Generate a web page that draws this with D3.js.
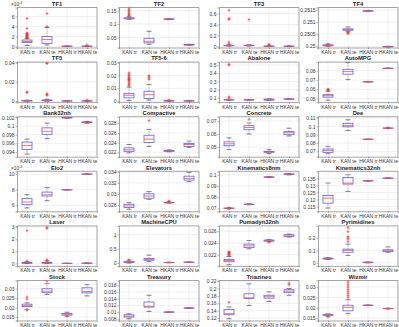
<!DOCTYPE html>
<html lang="en">
<head>
<meta charset="UTF-8">
<title>KAN vs HKAN boxplots</title>
<script src="https://cdnjs.cloudflare.com/ajax/libs/d3/7.8.5/d3.min.js"></script>
<style>
  body { margin: 0; background: #fff; }
  svg { display: block; font-family: "Liberation Sans", Arial, sans-serif; }
</style>
</head>
<body>
<div id="chart"></div>
<script>
const groups = ["KAN tr", "KAN te", "HKAN tr", "HKAN te"];

const titles = ["TF1", "TF2", "TF3", "TF4", "TF5", "TF5-6", "Abalone", "AutoMPG",
  "Bank32nh", "Compactive", "Concrete", "Dee", "Elo2", "Elevators", "Kinematics8nm", "Kinematics32nh",
  "Laser", "MachineCPU", "Pumadyn32nh", "Pyrimidines", "Stock", "Treasury", "Triazines", "Wizmir"];

// values of TF1 are in units of 1e-4, Elo2 in units of 1e-3
const yExponent = [-4, 0, 0, 0, 0, 0, 0, 0, 0, 0, 0, 0, -3, 0, 0, 0, 0, 0, 0, 0, 0, 0, 0, 0];

const yDomains = [
  [-0.2, 7.8], [0.013, 0.161], [-0.02, 0.71], [0.24995, 0.2516],
  [-0.001, 0.0405], [-0.0008, 0.0305], [0.048, 0.536], [0.046, 0.0893],
  [0.0929, 0.1022], [0.0211, 0.0293], [0.0426, 0.0733], [0.0636, 0.1117],
  [5.24, 10.36], [0.02682, 0.03409], [0.0673, 0.1032], [0.1116, 0.1401],
  [-0.2, 3.1], [-0.1, 1.31], [0.0201, 0.0269], [-0.024, 0.296],
  [0.0131, 0.0344], [0.0075, 0.0194], [0.1134, 0.222], [0.0138, 0.0332]
];

const yTicks = [
  [0, 2, 4, 6], [0.05, 0.1, 0.15], [0, 0.2, 0.4, 0.6], [0.25, 0.2505, 0.251, 0.2515],
  [0, 0.02, 0.04], [0, 0.01, 0.02, 0.03], [0.1, 0.2, 0.3, 0.4, 0.5], [0.05, 0.06, 0.07, 0.08],
  [0.094, 0.096, 0.098, 0.1, 0.102], [0.022, 0.024, 0.026, 0.028], [0.05, 0.06, 0.07], [0.07, 0.08, 0.09, 0.1, 0.11],
  [6, 8, 10], [0.028, 0.03, 0.032, 0.034], [0.07, 0.08, 0.09, 0.1], [0.115, 0.12, 0.125, 0.13, 0.135],
  [0, 1, 2, 3], [0, 0.5, 1], [0.022, 0.024, 0.026], [0, 0.1, 0.2],
  [0.015, 0.02, 0.025, 0.03], [0.008, 0.01, 0.012, 0.014, 0.016, 0.018], [0.12, 0.14, 0.16, 0.18, 0.2, 0.22], [0.015, 0.02, 0.025, 0.03]
];

// [lower whisker, q1, median, q3, upper whisker] for KAN tr, KAN te, HKAN tr, HKAN te
const boxStats = [
  [[0.2, 0.8, 1.0, 1.3, 1.6], [0.3, 0.6, 1.4, 2.0, 3.8], [0.02, 0.04, 0.06, 0.08, 0.12], [0.02, 0.04, 0.06, 0.08, 0.12]],
  [[0.117, 0.119, 0.121, 0.123, 0.127], [0.025, 0.03, 0.036, 0.047, 0.073], [0.116, 0.117, 0.118, 0.119, 0.12], [0.021, 0.022, 0.023, 0.024, 0.025]],
  [[0.005, 0.012, 0.016, 0.02, 0.03], [0.008, 0.013, 0.017, 0.022, 0.03], [0, 0.002, 0.004, 0.006, 0.01], [0, 0.002, 0.004, 0.006, 0.01]],
  [[0.25, 0.25002, 0.25004, 0.25006, 0.2501], [0.2506, 0.25066, 0.25069, 0.25072, 0.2508], [0.25144, 0.25145, 0.25146, 0.25147, 0.25148], [0.24996, 0.24997, 0.24998, 0.24999, 0.25]],
  [[0, 0.0002, 0.0004, 0.0006, 0.001], [0, 0.0004, 0.0008, 0.0012, 0.002], [0, 0.0002, 0.0003, 0.0004, 0.0006], [0, 0.0002, 0.0003, 0.0004, 0.0006]],
  [[0.0005, 0.0025, 0.0045, 0.006, 0.011], [0.0008, 0.002, 0.005, 0.0077, 0.013], [0, 0.0001, 0.0002, 0.0003, 0.0005], [0, 0.0001, 0.0002, 0.0003, 0.0005]],
  [[0.07, 0.074, 0.076, 0.078, 0.082], [0.071, 0.074, 0.076, 0.078, 0.08], [0.07, 0.072, 0.078, 0.085, 0.088], [0.082, 0.084, 0.085, 0.086, 0.087]],
  [[0.048, 0.0514, 0.053, 0.0541, 0.0578], [0.0703, 0.0762, 0.079, 0.0815, 0.089], [0.0678, 0.0679, 0.068, 0.0681, 0.0682], [0.0824, 0.0825, 0.0826, 0.0827, 0.0828]],
  [[0.0935, 0.0946, 0.0955, 0.0963, 0.097], [0.0971, 0.0981, 0.0988, 0.0996, 0.1007], [0.10185, 0.1019, 0.10195, 0.102, 0.10205], [0.1007, 0.1008, 0.1009, 0.101, 0.1011]],
  [[0.0219, 0.0222, 0.0225, 0.0229, 0.0236], [0.0232, 0.024, 0.0247, 0.0255, 0.0267], [0.0221, 0.0222, 0.0223, 0.0224, 0.0225], [0.023, 0.0232, 0.0236, 0.0238, 0.0243]],
  [[0.048, 0.051, 0.0525, 0.054, 0.057], [0.06, 0.0633, 0.065, 0.0664, 0.0685], [0.045, 0.046, 0.0463, 0.0467, 0.048], [0.0585, 0.0595, 0.061, 0.062, 0.0645]],
  [[0.067, 0.0688, 0.071, 0.0729, 0.076], [0.095, 0.0995, 0.101, 0.1035, 0.108], [0.0844, 0.0845, 0.0846, 0.0847, 0.0848], [0.0978, 0.0979, 0.098, 0.0981, 0.0982]],
  [[5.67, 6.09, 6.43, 6.86, 7.37], [6.6, 7.2, 7.35, 7.7, 8.29], [7.98, 7.99, 8.0, 8.01, 8.02], [9.98, 9.99, 10, 10.01, 10.02]],
  [[0.0272, 0.0275, 0.0278, 0.0281, 0.0284], [0.029, 0.0292, 0.0296, 0.03, 0.0304], [0.0283, 0.02835, 0.0284, 0.02845, 0.0285], [0.0322, 0.0325, 0.0328, 0.0332, 0.0339]],
  [[0.0695, 0.0698, 0.07, 0.0702, 0.0705], [0.0732, 0.0734, 0.0736, 0.0738, 0.074], [0.0975, 0.0978, 0.098, 0.0982, 0.0985], [0.1, 0.1003, 0.1006, 0.1009, 0.1012]],
  [[0.1139, 0.1174, 0.121, 0.1229, 0.1317], [0.1258, 0.131, 0.1317, 0.1357, 0.1376], [0.1331, 0.1332, 0.1333, 0.1334, 0.1335], [0.135, 0.1351, 0.1352, 0.1353, 0.1354]],
  [[0, 0.02, 0.05, 0.08, 0.15], [0, 0.03, 0.06, 0.1, 0.2], [0, 0.005, 0.01, 0.015, 0.02], [0, 0.01, 0.02, 0.03, 0.05]],
  [[0, 0.02, 0.04, 0.06, 0.1], [0.05, 0.1, 0.13, 0.16, 0.28], [0.01, 0.015, 0.02, 0.025, 0.03], [0.02, 0.025, 0.03, 0.035, 0.04]],
  [[0.0203, 0.0208, 0.021, 0.0212, 0.0217], [0.023, 0.0232, 0.0235, 0.0238, 0.0244], [0.0242, 0.0243, 0.0244, 0.0245, 0.0246], [0.025, 0.0251, 0.0252, 0.0254, 0.0255]],
  [[0.028, 0.031, 0.035, 0.038, 0.042], [0.06, 0.085, 0.1, 0.11, 0.15], [0, 0.002, 0.004, 0.006, 0.008], [0.085, 0.09, 0.097, 0.105, 0.128]],
  [[0.019, 0.0205, 0.021, 0.0218, 0.0225], [0.027, 0.0279, 0.0287, 0.03, 0.0327], [0.0155, 0.016, 0.0165, 0.0168, 0.0175], [0.0262, 0.0278, 0.0285, 0.0305, 0.0322]],
  [[0.008, 0.0085, 0.0088, 0.0092, 0.0095], [0.0102, 0.0115, 0.0117, 0.013, 0.015], [0.0099, 0.00995, 0.01, 0.01005, 0.0101], [0.0111, 0.01115, 0.0112, 0.01125, 0.0113]],
  [[0.118, 0.129, 0.132, 0.143, 0.15], [0.154, 0.173, 0.175, 0.186, 0.213], [0.165, 0.174, 0.178, 0.182, 0.191], [0.182, 0.189, 0.193, 0.197, 0.2]],
  [[0.0158, 0.0163, 0.0165, 0.0168, 0.017], [0.0171, 0.0185, 0.0202, 0.0212, 0.0239], [0.0211, 0.02115, 0.0212, 0.02125, 0.0213], [0.0195, 0.01955, 0.0196, 0.01965, 0.0197]]
];

const outliers = [
  [[1.7, 1.8, 1.9, 2.0, 2.1, 2.2, 2.3, 2.4, 2.5, 2.6, 2.7, 3.6, 5.6], [4.0, 6.6], [], [0.3]],
  [[0.13, 0.133, 0.136, 0.14, 0.145, 0.15, 0.155, 0.16], [], [], []],
  [[0.05, 0.08, 0.49, 0.51, 0.66], [0.49], [0.03, 0.04], []],
  [[0.25008], [0.25052, 0.25055, 0.25058], [], []],
  [[0.009, 0.0095], [0.006, 0.007, 0.0075, 0.039, 0.0395], [], [0.0012]],
  [[0.012, 0.013, 0.014, 0.015, 0.016, 0.0165, 0.017, 0.0175, 0.018, 0.019, 0.02, 0.021, 0.022], [0.017, 0.018, 0.019, 0.02], [0.001], []],
  [[0.1, 0.11, 0.5, 0.51], [], [], []],
  [[0.0585, 0.059, 0.0595, 0.06], [], [], []],
  [[], [], [], [0.1009]],
  [[], [0.0285], [], []],
  [[], [0.0713], [], []],
  [[], [], [], [0.098]],
  [[], [], [], []],
  [[], [], [0.0286, 0.0287], []],
  [[0.0697, 0.0703], [], [], []],
  [[], [], [], []],
  [[0.2, 2.7], [0.25, 0.3, 2.9, 3.0], [], []],
  [[0.12], [], [], []],
  [[0.0219, 0.022, 0.0221, 0.0222, 0.0223, 0.0224, 0.0225], [], [0.0241], []],
  [[], [0.17, 0.19, 0.2, 0.21, 0.25, 0.28, 0.3], [], []],
  [[0.0185, 0.0245, 0.0256], [0.034], [0.0152], []],
  [[], [], [], []],
  [[0.163], [], [], [0.21, 0.215]],
  [[0.0155], [0.025, 0.026, 0.027, 0.028, 0.029, 0.03, 0.031, 0.032, 0.033], [], [0.0196]]
];

const W = 399, H = 327;
const colLeft = [17, 119, 219, 318];
const colW = 80;
const rowH = 40;
const rowTop = r => 7.5 + 54.6 * r;

const svg = d3.select('#chart').append('svg')
  .attr('width', W)
  .attr('height', H);

const fmt = v => String(parseFloat(v.toPrecision(6)));

titles.forEach((title, i) => {
  const c = i % 4, r = Math.floor(i / 4);
  const left = colLeft[c], top = rowTop(r);

  const x = d3.scalePoint().domain(groups).range([left, left + colW]).padding(0.5);
  const y = d3.scaleLinear().domain(yDomains[i]).range([top + rowH, top]);
  const step = x.step();
  const ticks = yTicks[i].filter(t => t >= yDomains[i][0] && t <= yDomains[i][1]);
  const g = svg.append('g');

  // grid
  g.selectAll('.vg').data(groups).enter().append('line')
    .attr('x1', d => x(d)).attr('x2', d => x(d))
    .attr('y1', top).attr('y2', top + rowH)
    .attr('stroke', '#e6e6e6').attr('stroke-width', 0.6);
  g.selectAll('.hg').data(ticks).enter().append('line')
    .attr('x1', left).attr('x2', left + colW)
    .attr('y1', d => y(d)).attr('y2', d => y(d))
    .attr('stroke', '#e6e6e6').attr('stroke-width', 0.6);

  // axes
  const ya = g.append('g').attr('transform', `translate(${left},0)`)
    .call(d3.axisLeft(y).tickValues(ticks).tickFormat(fmt).tickSize(1.5).tickPadding(1));
  const xa = g.append('g').attr('transform', `translate(0,${top + rowH})`)
    .call(d3.axisBottom(x).tickSize(1.5).tickPadding(1.5));
  [ya, xa].forEach(a => {
    a.select('.domain').attr('stroke', '#666').attr('stroke-width', 0.6);
    a.selectAll('.tick line').attr('stroke', '#666').attr('stroke-width', 0.5);
    a.selectAll('text').attr('fill', '#333').style('font-size', '5px');
  });
  g.append('line').attr('x1', left).attr('x2', left + colW).attr('y1', top).attr('y2', top)
    .attr('stroke', '#666').attr('stroke-width', 0.6);
  g.append('line').attr('x1', left + colW).attr('x2', left + colW).attr('y1', top).attr('y2', top + rowH)
    .attr('stroke', '#666').attr('stroke-width', 0.6);

  // title
  g.append('text').attr('x', left + colW / 2).attr('y', top - 1.8)
    .attr('text-anchor', 'middle').attr('font-weight', 'bold')
    .style('font-size', '5.8px').attr('fill', '#222').text(title);

  if (yExponent[i] !== 0) {
    const t = g.append('text').attr('x', left - 6).attr('y', top - 1.5)
      .style('font-size', '4.8px').attr('fill', '#333');
    t.append('tspan').text('\u00d710');
    t.append('tspan').attr('dy', -2).style('font-size', '3.6px').text(yExponent[i]);
  }

  // boxes
  const clip = 'clip' + i;
  svg.append('clipPath').attr('id', clip).append('rect')
    .attr('x', left).attr('y', top).attr('width', colW).attr('height', rowH);
  const b = g.append('g').attr('clip-path', `url(#${clip})`);
  const bw = step * 0.5, cw = step * 0.25;

  groups.forEach((grp, k) => {
    const [lo, q1, med, q3, hi] = boxStats[i][k];
    const cx = x(grp);
    b.append('line').attr('x1', cx).attr('x2', cx).attr('y1', y(lo)).attr('y2', y(q1))
      .attr('stroke', '#777').attr('stroke-width', 0.5).attr('stroke-dasharray', '1.5,1');
    b.append('line').attr('x1', cx).attr('x2', cx).attr('y1', y(q3)).attr('y2', y(hi))
      .attr('stroke', '#777').attr('stroke-width', 0.5).attr('stroke-dasharray', '1.5,1');
    [lo, hi].forEach(v => {
      b.append('line').attr('x1', cx - cw / 2).attr('x2', cx + cw / 2).attr('y1', y(v)).attr('y2', y(v))
        .attr('stroke', '#333').attr('stroke-width', 0.6);
    });
    b.append('rect').attr('x', cx - bw / 2).attr('width', bw)
      .attr('y', y(q3)).attr('height', Math.max(0.3, y(q1) - y(q3)))
      .attr('fill', 'none').attr('stroke', '#6060f0').attr('stroke-width', 0.8);
    b.append('line').attr('x1', cx - bw / 2).attr('x2', cx + bw / 2).attr('y1', y(med)).attr('y2', y(med))
      .attr('stroke', '#f05050').attr('stroke-width', 0.8);
    b.selectAll(null).data(outliers[i][k]).enter().append('path')
      .attr('d', d => `M${cx - 1.5},${y(d)}h3M${cx},${y(d) - 1.5}v3`)
      .attr('stroke', '#f03030').attr('stroke-width', 0.6);
  });
});
</script>
</body>
</html>
